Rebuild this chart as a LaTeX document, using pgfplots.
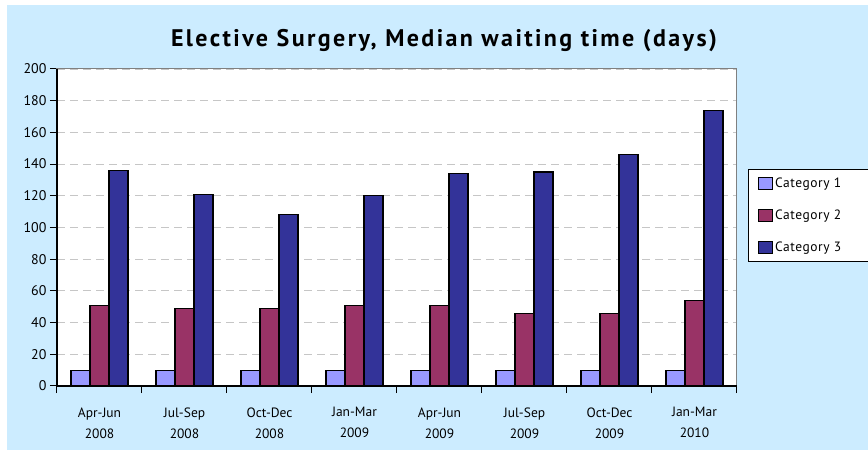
\documentclass[border=0pt]{standalone}
\usepackage{pgfplots}
\pgfplotsset{compat=1.18}
\usepackage{fontspec}
\setmainfont{PT Sans}
\definecolor{bgblue}{HTML}{CCECFF}
\definecolor{cA}{HTML}{9999FF}
\definecolor{cB}{HTML}{993366}
\definecolor{cC}{HTML}{333399}
\begin{document}
\begin{tikzpicture}[x=1pt,y=1pt]
\path[use as bounding box, fill=white] (0,0) rectangle (868,455);
\fill[bgblue] (7,5) rectangle (868,450);
\node[font=\bfseries\fontsize{24}{28}\selectfont\addfontfeature{LetterSpace=10}] at (444,414) {Elective Surgery, Median waiting time (days)};
\begin{axis}[
  at={(57pt,69pt)}, anchor=south west,
  width=680pt, height=317pt, scale only axis,
  ybar=0pt, bar width=19pt,
  xmin=-0.5, xmax=7.5, ymin=0, ymax=200,
  ytick={0,20,...,200},
  xtick={-0.5,0.5,1.5,2.5,3.5,4.5,5.5,6.5,7.5},
  x tick label as interval,
  xticklabels={{Apr-Jun\\2008},{Jul-Sep\\2008},{Oct-Dec\\2008},{Jan-Mar\\2009},{Apr-Jun\\2009},{Jul-Sep\\2009},{Oct-Dec\\2009},{Jan-Mar\\2010}},
  xticklabel style={align=center, font=\fontsize{13.5}{21}\selectfont, yshift=-11pt},
  yticklabel style={font=\fontsize{14}{16}\selectfont},
  /pgf/number format/assume math mode=true,
  xtick pos=bottom, ytick pos=left,
  tick align=outside, major tick length=7pt,
  tick style={black, line width=1pt},
  axis line style={gray, line width=1pt},
  axis background/.style={fill=white},
  ymajorgrids, grid style={gray!45, line width=0.8pt, dash pattern=on 8pt off 5pt},
  extra description/.code={\draw[black, line width=1.5pt] (rel axis cs:0,1) -- (rel axis cs:0,0) -- (rel axis cs:1,0);},
  every axis plot/.append style={draw=black, line width=1.1pt},
  legend style={at={(1.016,0.6845)}, anchor=north west, draw=black, line width=0.6pt, fill=white,
    font=\fontsize{13.5}{15}\selectfont\addfontfeature{LetterSpace=4}, row sep=16.5pt, inner xsep=10pt, inner ysep=7pt, cells={anchor=west}},
  legend image code/.code={\draw[#1, draw=black, line width=1pt] (0pt,-6pt) rectangle (14pt,6pt);},
]
\addplot[fill=cA] coordinates {(0,9.5) (1,9.5) (2,9.5) (3,9.5) (4,9.5) (5,9.5) (6,9.5) (7,9.5)};
\addplot[fill=cB] coordinates {(0,51) (1,49) (2,49) (3,51) (4,51) (5,46) (6,46) (7,54)};
\addplot[fill=cC] coordinates {(0,136) (1,121) (2,108) (3,120) (4,134) (5,135) (6,146) (7,174)};
\legend{Category 1\hspace*{20pt}, Category 2\hspace*{20pt}, Category 3\hspace*{20pt}}
\end{axis}
\end{tikzpicture}
\end{document}
